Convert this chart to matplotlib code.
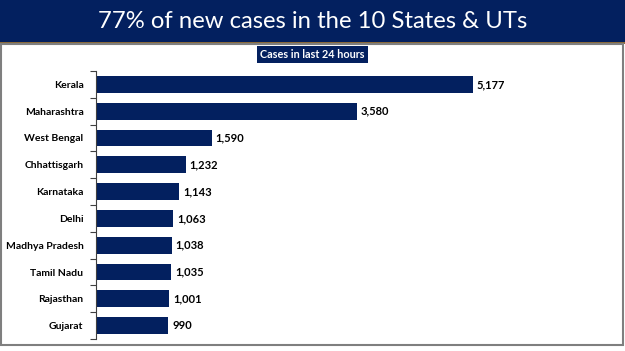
import matplotlib.pyplot as plt
from matplotlib.patches import Rectangle

# data, top to bottom
states = ["Kerala", "Maharashtra", "West Bengal", "Chhattisgarh", "Karnataka",
          "Delhi", "Madhya Pradesh", "Tamil Nadu", "Rajasthan", "Gujarat"]
cases = [5177, 3580, 1590, 1232, 1143, 1063, 1038, 1035, 1001, 990]

title = "77% of new cases in the 10 States & UTs"
subtitle = "Cases in last 24 hours"

navy = "#03205f"
W, H = 625, 351

fig = plt.figure(figsize=(W / 100, H / 100), dpi=100)
fig.patch.set_facecolor("white")

# header band and frame
fig.add_artist(Rectangle((0, 1 - 42 / H), 1, 42 / H, transform=fig.transFigure,
                         facecolor=navy, edgecolor="none"))
fig.add_artist(Rectangle((0, 1 - 43.5 / H), 1, 1.5 / H, transform=fig.transFigure,
                         facecolor="#8a6a3a", edgecolor="none"))
fig.add_artist(Rectangle((1.5 / W, 1 - 345 / H), 621 / W, (345 - 43.5) / H,
                         transform=fig.transFigure, facecolor="none",
                         edgecolor="#7f7f7f", linewidth=1.5))
fig.text(0.5, 1 - 21 / H, title, color="white", fontsize=17.2, family="Lato",
         ha="center", va="center")

# subtitle box
fig.add_artist(Rectangle((257 / W, 1 - 63 / H), 111 / W, 17 / H,
                         transform=fig.transFigure, facecolor=navy,
                         edgecolor="none"))
fig.text(312.5 / W, 1 - 54.5 / H, subtitle, color="white", fontsize=7.8,
         family="Lato", weight="bold", ha="center", va="center")

ax = fig.add_axes([96 / W, 1 - 339 / H, 509.6 / W, 268 / H])
pos = list(range(len(states)))
ax.barh(pos, cases, height=0.63, color=navy)
ax.set_xlim(0, 7000)
ax.set_ylim(len(states) - 0.5, -0.5)
ax.set_yticks(pos)
ax.set_yticklabels(states, family="Lato", weight="bold", fontsize=7.5)
ax.set_yticks([p - 0.5 for p in pos] + [len(states) - 0.5], minor=True)
ax.tick_params(axis="y", which="major", length=0, pad=9)
ax.tick_params(axis="y", which="minor", length=4, width=0.8, color="#404040")
ax.set_xticks([])
for s in ["top", "right", "bottom"]:
    ax.spines[s].set_visible(False)
ax.spines["left"].set_color("#404040")
ax.spines["left"].set_linewidth(0.8)

for p, v in zip(pos, cases):
    ax.text(v + 55, p, f"{v:,}", va="center", ha="left", family="Lato",
            weight="bold", fontsize=8)

fig.savefig("out.png", dpi=100)
